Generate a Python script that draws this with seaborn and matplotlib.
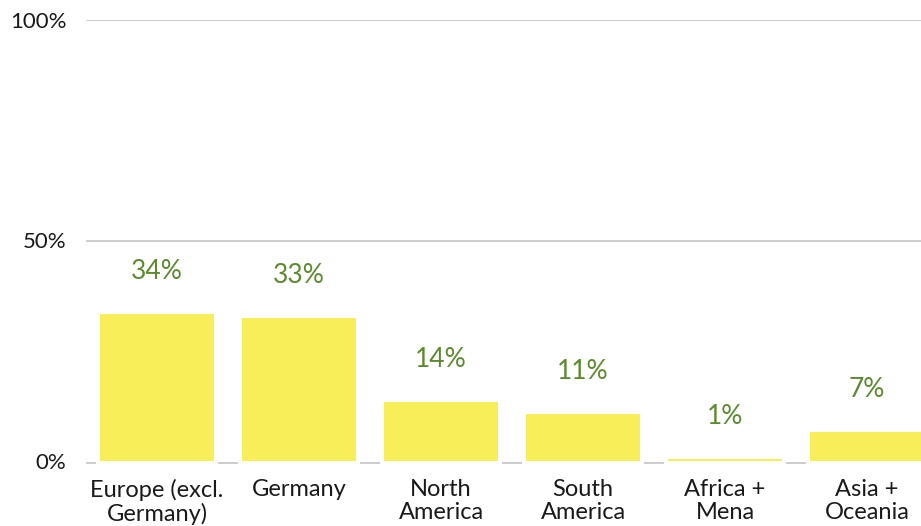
import matplotlib
matplotlib.use("Agg")
import matplotlib.pyplot as plt
import seaborn as sns
import pandas as pd

categories = ["Europe (excl.\nGermany)", "Germany", "North\nAmerica", "South\nAmerica", "Africa +\nMena", "Asia +\nOceania"]
values = [33.4, 32.5, 13.4, 10.7, 0.4, 6.6]
value_labels = ["34%", "33%", "14%", "11%", "1%", "7%"]
yticks = [0, 50, 100]
ytick_labels = ["0%", "50%", "100%"]

sns.set_theme(style="white")
plt.rcParams['font.family'] = ['Lato', 'DejaVu Sans']

df = pd.DataFrame({"region": categories, "share": values})

fig = plt.figure(figsize=(9.21, 5.26), dpi=100)
ax = fig.add_axes([86/921, 65/526, 852/921, 441/526])

for t in yticks[1:]:
    ax.axhline(t, color="#c8c8c8", lw=1.3, zorder=0)

sns.barplot(data=df, x="region", y="share", color="#f8ee5a", saturation=1,
            width=0.8, linewidth=0, ax=ax, zorder=2)

patches = list(ax.patches)
# zero baseline drawn only in the gaps between bars
inset = 0.03
lefts = [-0.5] + [p.get_x() + p.get_width() + inset for p in patches[:-1]]
rights = [patches[0].get_x() - inset] + [p.get_x() - inset for p in patches[1:]]
ax.hlines([-0.4] * len(lefts), lefts, rights, color="#c8c8c8", lw=1.3, zorder=1, clip_on=False)

for p, lab in zip(patches, value_labels):
    ax.annotate(lab, (p.get_x() + p.get_width()/2, p.get_height()),
                xytext=(0, 30.5), textcoords="offset points",
                ha="center", va="center", fontsize=19, color="#5b8a2f")

ax.set_xlim(-0.5, 5.5)
ax.set_ylim(0, 100)
ax.set_yticks(yticks)
ax.set_yticklabels(ytick_labels, fontsize=16, color="#1a1a1a")
ax.tick_params(axis="y", length=0, pad=14)
ax.tick_params(axis="x", length=0, pad=13, labelcolor="#1a1a1a")
for lbl in ax.get_xticklabels():
    lbl.set_fontsize(17)
    lbl.set_linespacing(1.1)
ax.set_xlabel("")
ax.set_ylabel("")
for s in ax.spines.values():
    s.set_visible(False)

fig.savefig("out.png", dpi=100)
